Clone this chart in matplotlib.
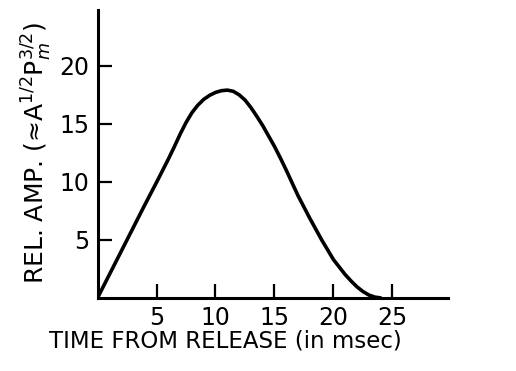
import numpy as np
import matplotlib.pyplot as plt

# Relative amplitude vs time from release
time_ms = [0, 1, 2, 3, 4, 5, 6, 6.5, 7, 7.5, 8, 8.5, 9, 9.5, 10, 10.5, 11, 11.5, 12, 12.5,
           13, 13.5, 14, 14.5, 15, 15.5, 16, 16.5, 17, 18, 19, 20, 21, 21.5, 22, 22.5, 23,
           23.5, 24]
rel_amp = [0, 2.0, 4.0, 6.0, 8.0, 9.95, 11.95, 13.0, 14.1, 15.1, 15.95, 16.6, 17.1, 17.45,
           17.7, 17.85, 17.9, 17.8, 17.5, 17.05, 16.4, 15.65, 14.85, 13.95, 13.05, 12.05,
           11.0, 9.9, 8.8, 6.85, 5.0, 3.3, 2.0, 1.45, 0.95, 0.55, 0.25, 0.07, 0]

x_ticks = [5, 10, 15, 20, 25]
y_ticks = [5, 10, 15, 20]

fig = plt.figure(figsize=(5.16, 3.71), dpi=100)
ax = fig.add_axes([0.189, 0.197, 0.679, 0.776])

ax.plot(time_ms, rel_amp, color='black', lw=2.6, solid_capstyle='round', solid_joinstyle='round')

ax.set_xlim(0, 29.7)
ax.set_ylim(0, 24.8)
ax.set_xticks(x_ticks)
ax.set_yticks(y_ticks)
ax.tick_params(direction='in', length=10, width=1.6, labelsize=17, pad=6)

for side in ['top', 'right']:
    ax.spines[side].set_visible(False)
for side in ['left', 'bottom']:
    ax.spines[side].set_linewidth(2.2)

ax.set_xlabel('TIME FROM RELEASE (in msec)', fontsize=16.5, va='top')
ax.xaxis.set_label_coords(0.364, -0.11)
ax.set_ylabel(r'REL. AMP. (≈A$^{1/2}$P$_m^{3/2}$)', fontsize=18)
ax.yaxis.set_label_coords(-0.125, 0.505)

fig.savefig('out.png', dpi=100)
